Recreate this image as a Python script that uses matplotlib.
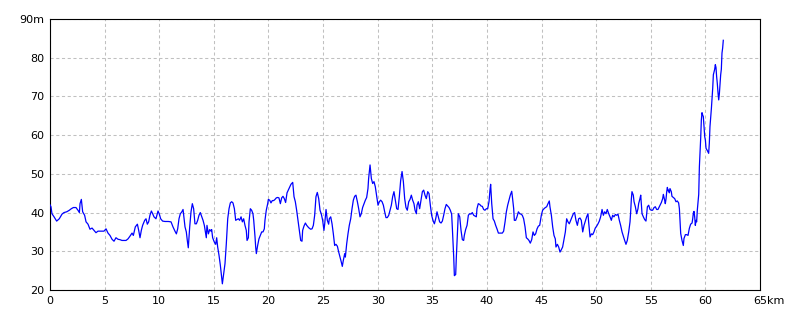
import matplotlib
matplotlib.use("Agg")
import matplotlib.pyplot as plt

# Elevation profile: distance (km) and elevation (m)
dist_km = [
    0.00, 0.09, 0.18, 0.37, 0.61, 0.85, 1.10, 1.28, 1.53, 1.77, 1.95, 2.14, 2.38, 2.56, 2.69, 2.75, 2.87, 2.99,
    3.17, 3.30, 3.48, 3.66, 3.85, 4.03, 4.21, 4.39, 4.58, 4.76, 4.94, 5.13, 5.31, 5.49, 5.68, 5.86, 6.04, 6.23,
    6.41, 6.59, 6.77, 6.96, 7.14, 7.32, 7.51, 7.63, 7.81, 8.00, 8.12, 8.24, 8.36, 8.48, 8.67, 8.79, 8.91, 9.03,
    9.15, 9.28, 9.40, 9.52, 9.70, 9.89, 10.01, 10.13, 10.31,
    10.53, 10.83, 11.08, 11.26, 11.44, 11.57, 11.69, 11.81, 11.93, 12.05, 12.18, 12.24, 12.36, 12.48, 12.57,
    12.66, 12.79, 12.91, 13.03, 13.15, 13.27, 13.40, 13.52, 13.64, 13.76, 13.88, 14.01, 14.13, 14.19, 14.31,
    14.37, 14.50, 14.62, 14.74, 14.80, 14.89, 15.04, 15.17, 15.26, 15.35, 15.47, 15.59, 15.72, 15.78, 15.90,
    16.02, 16.14, 16.27, 16.39, 16.51, 16.63, 16.75, 16.88, 17.00, 17.12, 17.24, 17.36, 17.49, 17.61, 17.73,
    17.85, 17.97, 18.04, 18.16, 18.22, 18.34, 18.46, 18.58, 18.65, 18.77, 18.83, 18.89, 19.01, 19.13, 19.26,
    19.38, 19.50, 19.62, 19.68, 19.80, 19.93, 19.99, 20.11, 20.23, 20.35, 20.48, 20.60, 20.72, 20.84, 20.96,
    21.09, 21.21, 21.33, 21.45, 21.57, 21.70, 21.88, 22.06,
    22.22, 22.34, 22.46, 22.58, 22.70, 22.83, 22.95, 23.07, 23.13, 23.25, 23.38, 23.50, 23.68, 23.86, 23.99,
    24.11, 24.23, 24.35, 24.47, 24.60, 24.72, 24.84, 24.96, 25.08, 25.15, 25.27, 25.39, 25.51, 25.57, 25.70,
    25.82, 25.94, 26.06, 26.18, 26.31, 26.43, 26.55, 26.67, 26.76, 26.85, 26.98, 27.04, 27.16, 27.28, 27.40,
    27.53, 27.65, 27.77, 27.89, 28.01, 28.14, 28.26, 28.38, 28.50, 28.62, 28.75, 28.87, 28.99, 29.11, 29.17,
    29.30, 29.42, 29.54, 29.66, 29.78, 29.91, 30.03, 30.15, 30.27, 30.40, 30.52, 30.64, 30.76, 30.88, 31.01,
    31.13, 31.25, 31.37, 31.49, 31.62, 31.74, 31.86, 31.98, 32.10, 32.23, 32.35, 32.47, 32.59, 32.71, 32.84,
    32.96, 33.08, 33.20, 33.32,
    33.42, 33.54, 33.60, 33.72, 33.84, 33.97, 34.09, 34.21, 34.33, 34.45, 34.58, 34.70, 34.82, 34.94, 35.06,
    35.19, 35.31, 35.43, 35.55, 35.67, 35.80, 35.92, 36.04, 36.16, 36.28, 36.41, 36.53, 36.65, 36.77, 36.83,
    36.96, 37.02, 37.14, 37.20, 37.32, 37.38, 37.51, 37.63, 37.75, 37.87, 37.93, 38.05, 38.18, 38.30, 38.42,
    38.54, 38.66, 38.79, 38.91, 39.03, 39.09, 39.21, 39.34, 39.46, 39.58, 39.70, 39.82, 39.95, 40.07, 40.19,
    40.28, 40.34, 40.44, 40.56, 40.68, 40.80, 40.92, 41.05, 41.17, 41.29, 41.41, 41.53, 41.66, 41.78, 41.90,
    42.02, 42.14, 42.27, 42.33, 42.45, 42.51, 42.63, 42.75, 42.88, 43.00, 43.12, 43.24, 43.36, 43.49, 43.61,
    43.73, 43.85, 43.97, 44.10, 44.22, 44.34, 44.46, 44.59, 44.71, 44.83,
    44.98, 45.10, 45.23, 45.35, 45.47, 45.59, 45.71, 45.77, 45.90, 46.02, 46.14, 46.26, 46.32, 46.45, 46.57,
    46.69, 46.81, 46.93, 47.06, 47.18, 47.30, 47.42, 47.54, 47.67, 47.79, 47.91, 48.03, 48.15, 48.28, 48.40,
    48.52, 48.64, 48.77, 48.89, 49.01, 49.13, 49.25, 49.31, 49.44, 49.56, 49.68, 49.80, 49.92, 50.05, 50.17,
    50.29, 50.41, 50.54, 50.66, 50.78, 50.90, 51.02, 51.15, 51.27, 51.39, 51.51, 51.63, 51.76, 51.88, 52.00,
    52.12, 52.24, 52.37, 52.49, 52.61, 52.73, 52.85, 52.98, 53.10, 53.16, 53.22, 53.28, 53.40, 53.47, 53.59,
    53.71, 53.83, 53.89, 54.01, 54.08, 54.20, 54.32, 54.44, 54.56, 54.69, 54.81, 54.93, 55.05, 55.17, 55.30,
    55.42, 55.54, 55.66, 55.78, 55.91,
    55.97, 56.09, 56.15, 56.27, 56.33, 56.40, 56.46, 56.52, 56.58, 56.64, 56.70, 56.76, 56.88, 56.94, 57.07,
    57.19, 57.31, 57.43, 57.55, 57.62, 57.68, 57.74, 57.86, 57.98, 58.04, 58.17, 58.29, 58.41, 58.53, 58.65,
    58.78, 58.84, 58.90, 58.96, 59.02, 59.08, 59.14, 59.20, 59.26, 59.39, 59.45, 59.57, 59.63, 59.69, 59.75,
    59.81, 59.87, 59.94, 60.00, 60.06, 60.18, 60.30, 60.36, 60.42, 60.55, 60.67, 60.73, 60.85, 60.91, 60.97,
    61.03, 61.09, 61.16, 61.22, 61.28, 61.34, 61.40, 61.46, 61.52, 61.58, 61.64,
]

elev_m = [
    42.0, 41.5, 39.7, 38.9, 37.8, 38.4, 39.6, 40.0, 40.2, 40.6, 41.0, 41.3, 41.3, 40.6, 40.0, 42.3, 43.4, 40.2,
    39.3, 37.6, 37.0, 35.7, 36.0, 35.4, 34.8, 35.2, 35.2, 35.2, 35.2, 35.8, 34.7, 34.1, 33.1, 32.6, 33.5, 33.1,
    33.0, 32.8, 32.8, 32.8, 33.2, 33.9, 34.7, 34.1, 36.3, 37.0, 35.4, 33.5, 35.4, 36.7, 38.0, 38.4, 37.0, 37.6,
    39.3, 40.4, 39.7, 38.9, 38.4, 40.4, 39.6, 38.4, 37.8,
    37.7, 37.7, 37.6, 36.3, 35.2, 34.5, 35.8, 38.4, 39.7, 40.1, 40.8, 39.3, 36.3, 35.0, 32.8,
    30.9, 36.3, 40.2, 42.3, 41.0, 37.1, 37.1, 38.0, 39.3, 40.0, 39.0, 38.0, 36.7, 35.6, 33.5,
    36.7, 34.5, 35.6, 35.2, 35.6, 33.5, 32.4, 31.8, 33.5, 31.1, 29.0, 26.5, 23.0, 21.6, 24.2,
    26.8, 31.9, 38.4, 41.0, 42.5, 42.8, 42.5, 41.0, 38.0, 38.2, 38.4, 38.0, 38.9, 37.6, 38.4,
    36.7, 35.4, 32.8, 33.5, 37.6, 41.0, 40.6, 39.7, 38.0, 33.7, 31.1, 29.4, 31.5, 33.2, 34.1,
    35.0, 35.0, 35.8, 38.0, 40.6, 42.3, 43.4, 43.2, 42.5, 43.1, 43.1, 43.4, 43.8, 43.9, 43.8,
    42.3, 43.8, 44.2, 43.6, 42.6, 45.1, 46.2, 47.3,
    47.8, 44.1, 42.8, 40.6, 38.0, 35.4, 32.8, 32.6, 35.4, 36.5, 37.3, 36.7, 36.1, 35.7, 35.8,
    36.7, 39.3, 44.1, 45.2, 43.6, 40.6, 39.6, 38.0, 35.4, 37.1, 40.8, 38.0, 37.0, 38.4, 38.9,
    37.1, 34.5, 31.5, 31.8, 31.3, 29.8, 28.5, 27.2, 26.1, 27.6, 29.4, 28.5, 31.9, 34.5, 36.7,
    38.4, 41.0, 43.2, 44.2, 44.5, 42.8, 41.0, 38.9, 39.7, 41.3, 42.3, 43.2, 43.9, 46.2, 48.8,
    52.3, 48.8, 47.5, 48.0, 46.7, 44.1, 41.9, 42.8, 43.2, 42.8, 41.9, 40.2, 38.7, 38.7, 39.3,
    40.6, 41.9, 44.1, 45.4, 43.2, 41.0, 40.8, 44.1, 48.2, 50.6, 48.0, 43.6, 41.3, 40.6, 42.8,
    43.4, 44.5, 43.2, 42.3,
    40.6, 39.7, 41.9, 42.8, 41.0, 43.2, 45.4, 45.8, 44.5, 43.6, 45.4, 44.9, 41.9, 39.3, 38.0,
    37.1, 38.4, 40.2, 38.9, 37.6, 37.3, 37.8, 39.3, 41.0, 42.1, 41.7, 41.3, 40.6, 39.6, 36.3,
    28.5, 23.7, 24.0, 28.5, 35.8, 39.7, 38.9, 35.4, 33.0, 32.8, 34.1, 35.6, 36.7, 39.3, 39.7,
    39.6, 40.0, 39.3, 39.1, 38.9, 41.0, 42.3, 42.1, 41.7, 41.6, 40.8, 40.6, 41.0, 41.0, 42.8,
    45.8, 47.3, 42.3, 38.4, 37.8, 36.7, 35.8, 34.7, 34.7, 34.7, 34.7, 35.2, 37.6, 40.2, 41.9,
    43.2, 44.5, 45.5, 44.1, 41.0, 38.0, 38.0, 38.9, 40.2, 39.7, 39.6, 39.3, 38.4, 36.3, 33.5,
    33.2, 32.8, 32.1, 33.0, 35.0, 34.1, 34.5, 35.8, 36.5, 36.7,
    39.3, 40.6, 41.0, 41.3, 41.5, 42.3, 43.0, 41.5, 39.3, 36.3, 34.1, 33.2, 31.1, 31.8, 31.1,
    29.8, 30.4, 31.1, 33.2, 35.0, 38.4, 37.6, 37.1, 38.0, 38.9, 39.7, 40.0, 38.0, 36.7, 38.4,
    38.6, 38.0, 35.0, 36.7, 37.8, 38.9, 39.7, 37.6, 33.7, 34.5, 34.3, 35.0, 36.0, 36.5, 37.1,
    37.8, 38.9, 40.8, 39.3, 40.2, 39.7, 40.8, 39.7, 38.9, 38.0, 39.3, 38.9, 39.5, 39.3, 39.6,
    38.0, 36.7, 35.0, 33.9, 32.8, 31.8, 32.8, 35.0, 37.6, 40.2, 43.4, 45.4, 44.5, 42.8, 41.5,
    39.7, 41.0, 42.3, 43.6, 44.5, 39.7, 38.9, 38.2, 37.8, 41.5, 41.9, 40.8, 40.6, 40.6, 41.3,
    41.5, 40.8, 40.8, 41.5, 42.3,
    42.6, 43.6, 44.7, 43.2, 42.3, 43.6, 45.4, 46.5, 45.6, 45.8, 45.1, 46.2, 45.4, 44.2, 43.9,
    43.6, 42.8, 43.0, 42.5, 41.0, 37.6, 34.6, 32.8, 31.5, 33.3, 34.3, 34.3, 34.1, 35.9, 37.0,
    37.3, 38.4, 39.9, 40.3, 38.9, 36.7, 38.0, 37.6, 40.6, 44.7, 51.8, 59.2, 63.9, 65.8, 65.2,
    64.8, 62.2, 59.6, 58.7, 56.6, 56.0, 55.3, 57.9, 62.2, 66.9, 72.1, 75.6, 77.0, 78.2, 77.5,
    75.1, 73.4, 70.8, 69.1, 70.7, 73.0, 75.6, 77.0, 81.2, 82.5, 84.5,
]

x_ticks = [0, 5, 10, 15, 20, 25, 30, 35, 40, 45, 50, 55, 60, 65]
x_labels = ["0", "5", "10", "15", "20", "25", "30", "35", "40", "45", "50", "55", "60", "65"]
y_ticks = [20, 30, 40, 50, 60, 70, 80, 90]
y_labels = ["20", "30", "40", "50", "60", "70", "80", "90m"]

fig = plt.figure(figsize=(8, 3.2), dpi=100)
ax = fig.add_axes([50 / 800, 30 / 320, 710 / 800, 271 / 320])

ax.plot(dist_km, elev_m, color="#0000FF", linewidth=0.9, antialiased=True, zorder=3)

ax.set_xlim(0, 65)
ax.set_ylim(20, 90)
ax.set_xticks(x_ticks)
ax.set_xticklabels(x_labels)
ax.set_yticks(y_ticks)
ax.set_yticklabels(y_labels)

ax.grid(True, color="#c0c0c0", linewidth=0.75, linestyle=(0, (3, 2.5)), zorder=1)
ax.tick_params(axis="both", length=0, labelsize=8, colors="black")
ax.tick_params(axis="x", pad=4)
ax.tick_params(axis="y", pad=4)

# append "km" right after the last x tick label
ax.annotate("km", xy=(65, 20), xycoords="data", xytext=(4.8, -4.2), textcoords="offset points",
            ha="left", va="top", fontsize=8)

for sp in ax.spines.values():
    sp.set_linewidth(0.8)
    sp.set_color("black")

fig.savefig("out.png", dpi=100)
